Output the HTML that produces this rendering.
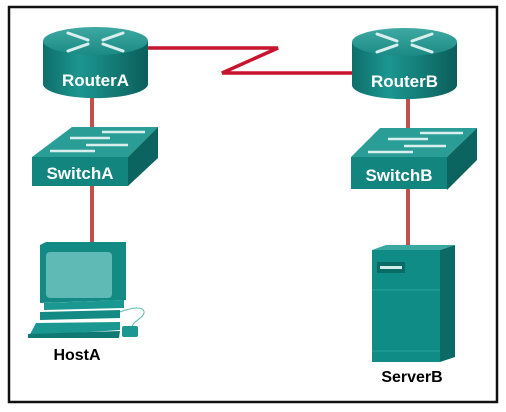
<!DOCTYPE html>
<html><head><style>
body{margin:0;background:#fff;width:506px;height:412px;overflow:hidden}
svg{display:block}
text{font-family:"Liberation Sans",Arial,sans-serif;font-weight:bold}
</style></head><body>
<svg width="506" height="412" viewBox="0 0 506 412">
<defs>
<linearGradient id="rb" x1="0" x2="1" y1="0" y2="0">
<stop offset="0" stop-color="#0e6e69"/><stop offset="0.35" stop-color="#1c9690"/><stop offset="1" stop-color="#0b5e5a"/>
</linearGradient>
<linearGradient id="rt" x1="0" x2="0" y1="0" y2="1">
<stop offset="0" stop-color="#3fa9a3"/><stop offset="1" stop-color="#1b8a84"/>
</linearGradient>
</defs>
<rect x="9" y="7" width="488" height="395" fill="#fff" stroke="#111" stroke-width="2.5"/>
<!-- links -->
<polyline points="148,48 278,48 222,73 352,73" fill="none" stroke="#c8142e" stroke-width="3.5" stroke-linejoin="miter"/>
<line x1="92" y1="95" x2="92" y2="245" stroke="#c0504d" stroke-width="4"/>
<line x1="408" y1="95" x2="408" y2="248" stroke="#c0504d" stroke-width="4"/>

<!-- Router template -->
<g id="routerA">
<path d="M43,41 L43,84 A52,14 0 0 0 148,84 L148,41 Z" fill="url(#rb)"/>
<ellipse cx="95.5" cy="41" rx="52.5" ry="14" fill="url(#rt)"/>
<g stroke="#d8efee" stroke-width="3" fill="none" stroke-linecap="round">
<line x1="68" y1="33" x2="88" y2="40"/><line x1="123" y1="33" x2="103" y2="40"/>
<line x1="68" y1="51" x2="88" y2="44"/><line x1="123" y1="51" x2="103" y2="44"/>
</g>
<text x="95.5" y="86" fill="#fff" font-size="17" text-anchor="middle">RouterA</text>
</g>
<g transform="translate(309,1)">
<path d="M43,41 L43,84 A52,14 0 0 0 148,84 L148,41 Z" fill="url(#rb)"/>
<ellipse cx="95.5" cy="41" rx="52.5" ry="14" fill="url(#rt)"/>
<g stroke="#d8efee" stroke-width="3" fill="none" stroke-linecap="round">
<line x1="68" y1="33" x2="88" y2="40"/><line x1="123" y1="33" x2="103" y2="40"/>
<line x1="68" y1="51" x2="88" y2="44"/><line x1="123" y1="51" x2="103" y2="44"/>
</g>
<text x="95.5" y="86" fill="#fff" font-size="17" text-anchor="middle">RouterB</text>
</g>

<!-- Switch A -->
<g>
<polygon points="72,127 158,127 128,157 32,157" fill="#2a9d96"/>
<polygon points="128,157 158,127 158,158 128,186" fill="#0c6460"/>
<rect x="32" y="157" width="96" height="29" fill="#13857f"/>
<g stroke="#d8efee" stroke-width="2.5">
<line x1="102" y1="132" x2="145" y2="132"/><line x1="70" y1="138" x2="110" y2="138"/>
<line x1="86" y1="145" x2="128" y2="145"/><line x1="50" y1="151" x2="95" y2="151"/>
</g>
<text x="80" y="179" fill="#fff" font-size="17" text-anchor="middle">SwitchA</text>
</g>
<g>
<polygon points="380,128 477,128 447,157 351,157" fill="#2a9d96"/>
<polygon points="447,157 477,128 477,160 447,190" fill="#0c6460"/>
<rect x="351" y="157" width="96" height="32" fill="#13857f"/>
<g stroke="#d8efee" stroke-width="2.5">
<line x1="420" y1="133" x2="463" y2="133"/><line x1="388" y1="139" x2="428" y2="139"/>
<line x1="404" y1="146" x2="446" y2="146"/><line x1="368" y1="152" x2="413" y2="152"/>
</g>
<text x="399" y="181" fill="#fff" font-size="17" text-anchor="middle">SwitchB</text>
</g>

<!-- HostA -->
<g>
<polygon points="40,245 46,242 126,242 126,300 40,303" fill="#138a83"/>
<rect x="46" y="252" width="66" height="46" rx="4" fill="#5fbab5"/>
<polygon points="44,303 124,300 124,308 44,310" fill="#1a9790"/>
<polygon points="40,312 120,310 120,318 40,320" fill="#138a83"/>
<polygon points="36,323 120,322 120,330 28,336 28,338" fill="#1a9790"/>
<polygon points="28,334 120,331 119,338 28,338" fill="#0f7a74"/>
<path d="M120,312 C130,308 145,305 144,313 C143,318 135,320 132,326" stroke="#5fbab5" stroke-width="1" fill="none"/>
<rect x="122" y="326" width="16" height="11" rx="2" fill="#1a9790"/>
<text x="77" y="360" fill="#000" font-size="16" text-anchor="middle">HostA</text>
</g>

<!-- ServerB -->
<g>
<polygon points="372,250 386,245 455,245 440,250" fill="#3aa7a1"/>
<polygon points="440,250 455,245 455,357 440,362" fill="#0b6a65"/>
<rect x="372" y="250" width="68" height="112" fill="#0e8c85"/>
<rect x="377" y="262" width="28" height="11" fill="#0a6b66"/>
<rect x="380" y="266" width="22" height="3" fill="#cfeae8"/>
<line x1="372" y1="290" x2="440" y2="290" stroke="#2aa39c" stroke-width="1"/>
<line x1="372" y1="351" x2="440" y2="351" stroke="#2aa39c" stroke-width="1"/>
<text x="412" y="382" fill="#000" font-size="16" text-anchor="middle">ServerB</text>
</g>
</svg>
</body></html>
